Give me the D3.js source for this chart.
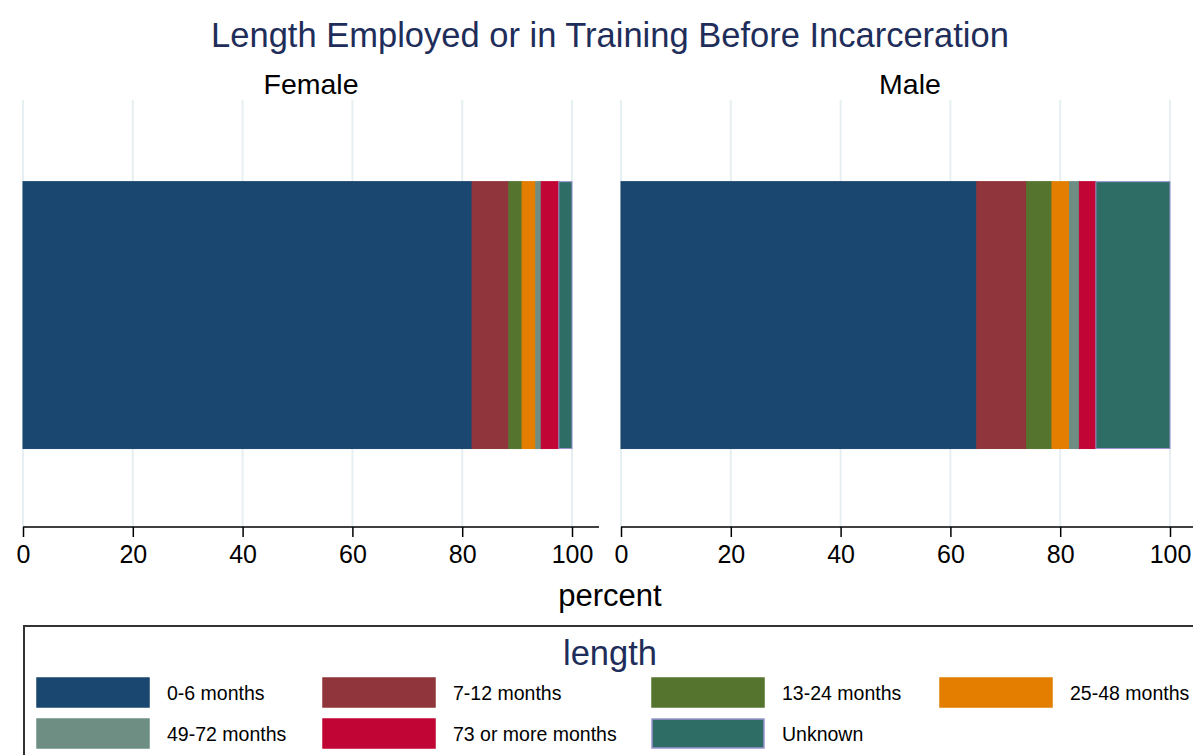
<!DOCTYPE html>
<html>
<head>
<meta charset="utf-8">
<script src="https://cdn.jsdelivr.net/npm/d3@7"></script>
<style>
  html, body { margin: 0; padding: 0; background: #fff; }
  svg { display: block; font-family: "Liberation Sans", Arial, sans-serif; }
</style>
</head>
<body>
<svg id="chart" width="1193" height="755"></svg>
<script>
const categories = ["0-6 months", "7-12 months", "13-24 months", "25-48 months", "49-72 months", "73 or more months", "Unknown"];
const panels = ["Female", "Male"];
const femaleValues = [81.8, 6.7, 2.4, 2.5, 1.0, 3.2, 2.4];
const maleValues = [64.8, 9.1, 4.6, 3.2, 1.8, 3.0, 13.5];
const tickValues = [0, 20, 40, 60, 80, 100];
const colors = ["#1a476f", "#90353b", "#55752f", "#e37e00", "#6e8e84", "#c10534", "#2d6d66"];
const strokes = ["#1a476f", "#90353b", "#55752f", "#e37e00", "#6e8e84", "#c10534", "#9a94d0"];

const svg = d3.select("#chart");
const titleColor = "#1e2d59";

svg.append("text").attr("x", 610).attr("y", 47).attr("text-anchor", "middle")
  .attr("font-size", 34.5).attr("fill", titleColor)
  .text("Length Employed or in Training Before Incarceration");

const panelRanges = [[23, 572], [621, 1170]];
const panelRight = [599, 1199];
const seriesByPanel = [femaleValues, maleValues];
const color = d3.scaleOrdinal().domain(categories).range(colors);
const strokeC = d3.scaleOrdinal().domain(categories).range(strokes);
const y = d3.scaleBand().domain(["bar"]).range([100, 527]).paddingInner(0).paddingOuter(0.3).align(0.51);

panels.forEach((p, i) => {
  const x = d3.scaleLinear().domain([0, 100]).range(panelRanges[i]);
  const g = svg.append("g");
  g.append("text").attr("x", (panelRanges[i][0] + panelRight[i]) / 2).attr("y", 94)
    .attr("text-anchor", "middle").attr("font-size", 28.5).attr("fill", "#000").text(p);
  g.selectAll("line.grid").data(tickValues).join("line").attr("class", "grid")
    .attr("x1", d => x(d)).attr("x2", d => x(d)).attr("y1", 100).attr("y2", 527)
    .attr("stroke", "#e6eff1").attr("stroke-width", 2);
  const vals = seriesByPanel[i];
  let cum = 0;
  const segs = vals.map((v, k) => { const s = { cat: categories[k], x0: cum, x1: cum + v }; cum += v; return s; });
  g.selectAll("rect.seg").data(segs).join("rect").attr("class", "seg")
    .attr("x", d => x(d.x0)).attr("width", d => x(d.x1) - x(d.x0))
    .attr("y", y("bar")).attr("height", y.bandwidth())
    .attr("fill", d => color(d.cat)).attr("stroke", d => strokeC(d.cat)).attr("stroke-width", 1);
  const axis = d3.axisBottom(x).tickValues(tickValues).tickSize(10).tickSizeOuter(0).tickPadding(8);
  const ag = g.append("g").attr("transform", "translate(0,527)").call(axis);
  ag.select(".domain").attr("d", `M${panelRanges[i][0]},0H${panelRight[i]}`).attr("stroke", "#000").attr("stroke-width", 1.5);
  ag.selectAll(".tick line").attr("stroke", "#000").attr("stroke-width", 1.5);
  ag.selectAll(".tick text").attr("font-size", 25).attr("fill", "#000")
    .attr("font-family", "'Liberation Sans', Arial, sans-serif");
});

svg.append("text").attr("x", 610).attr("y", 606).attr("text-anchor", "middle")
  .attr("font-size", 31).attr("fill", "#000").text("percent");

svg.append("rect").attr("x", 24).attr("y", 626).attr("width", 1200).attr("height", 150)
  .attr("fill", "none").attr("stroke", "#333").attr("stroke-width", 2);
svg.append("text").attr("x", 610).attr("y", 665).attr("text-anchor", "middle")
  .attr("font-size", 34.5).attr("fill", titleColor).text("length");

const colX = [37, 323, 652, 940];
const rowY = [678, 719];
const lg = svg.append("g").selectAll("g").data(categories).join("g")
  .attr("transform", (d, k) => `translate(${colX[k % 4]},${rowY[Math.floor(k / 4)]})`);
lg.append("rect").attr("width", 112).attr("height", 29)
  .attr("fill", d => color(d)).attr("stroke", d => strokeC(d)).attr("stroke-width", 1.5);
lg.append("text").attr("x", 130).attr("y", 22).attr("font-size", 19.5).attr("fill", "#000").text(d => d);
</script>
</body>
</html>
